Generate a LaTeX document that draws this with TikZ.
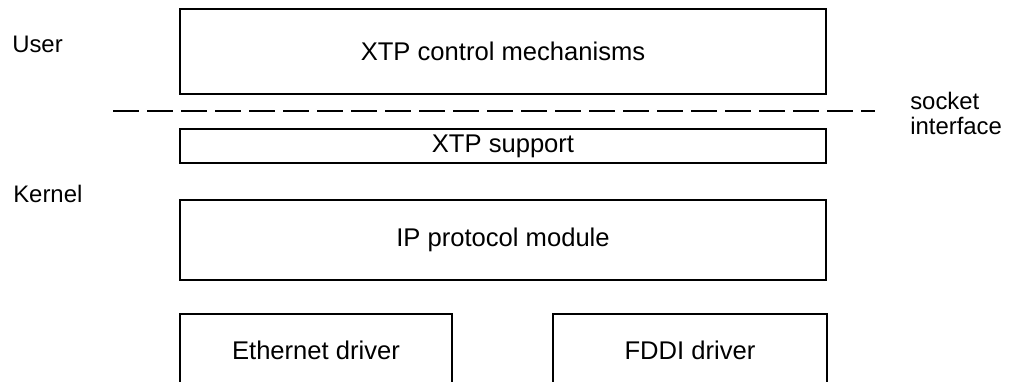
\documentclass[tikz,border=0pt]{standalone}
\usepackage{fontspec}
\setmainfont{Liberation Sans}

\begin{document}
\begin{tikzpicture}[x=0.025cm,y=-0.025cm,
    every node/.style={font=\fontsize{17pt}{17.8pt}\selectfont},
    layer/.style={draw,line width=1.3pt,inner sep=0pt,minimum width=16.15cm,
        font=\fontsize{18.2pt}{19pt}\selectfont},
    side/.style={inner sep=0pt}]

            \clip (0,0) rectangle (1011,381);

            \node[layer,minimum height=2.125cm] (ctrl) at (503,51.5) {XTP control mechanisms};

            \node[layer,minimum height=0.85cm] (supp) at (503,146) {XTP support};

            \node[layer,minimum height=2cm] (ip) at (503,240) {IP protocol module};

            \node[layer,minimum width=6.8cm,minimum height=1.8cm] (eth) at (316,350) {Ethernet driver};

            \node[layer,minimum width=6.85cm,minimum height=1.8cm] (fddi) at (690,350) {FDDI driver};

            \node[side,anchor=base west] (user) at (12,53) {User};

            \node[side,anchor=base west] (kernel) at (13,202) {Kernel};

            \node[side,anchor=west,align=left] (sock) at (910,113) {socket\\interface};

            \coordinate (dl) at (113,111);
            \coordinate (dr) at (875,111);
            \draw[line width=1.4pt,dash pattern=on 0.65cm off 0.2cm] (dl) -- (dr) ;
            \end{tikzpicture}
\end{document}
